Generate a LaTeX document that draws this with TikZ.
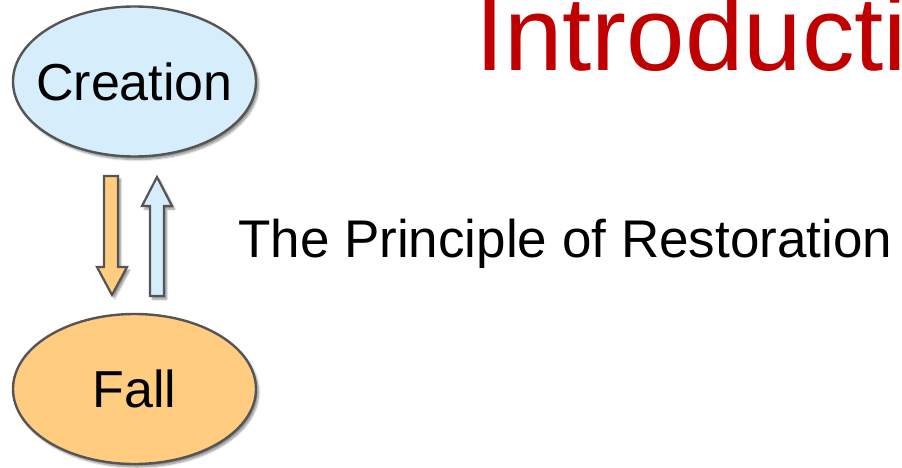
\documentclass[tikz,border=0pt]{standalone}
\usepackage{fontspec}
\setmainfont{Liberation Sans}
\usetikzlibrary{shapes.geometric,shadows.blur}
\definecolor{lblue}{RGB}{214,237,252}
\definecolor{lorange}{RGB}{255,204,128}
\definecolor{edgegray}{RGB}{85,85,85}
\definecolor{titlered}{RGB}{192,0,0}
\tikzset{
  state/.style={ellipse, draw=edgegray, line width=2.4pt, inner sep=0pt,
    minimum width=243pt, minimum height=150pt,
    font=\fontsize{52}{52}\selectfont,
    blur shadow={shadow xshift=2.5pt, shadow yshift=-3pt, shadow blur steps=6, shadow opacity=45}},
  bigarrow/.style={draw=edgegray, line width=2.2pt, line join=miter,
    blur shadow={shadow xshift=2.5pt, shadow yshift=-3pt, shadow blur steps=6, shadow opacity=45}}
}
\begin{document}
\begin{tikzpicture}[x=1pt,y=-1pt]
\useasboundingbox (0,0) rectangle (902,468);
\clip (0,0) rectangle (902,468);
\node[state, fill=lblue] (creation) at (134.5,81.5) {\makebox[0pt]{\raisebox{-5pt}{Creation}}};
\node[state, fill=lorange] (fall) at (134.5,389) {\makebox[0pt]{\raisebox{-3pt}{Fall}}};
\draw[bigarrow, fill=lorange] (104,176) -- (118,176) -- (118,267) -- (127,267) -- (112,295) -- (97,267) -- (104,267) -- cycle;
\draw[bigarrow, fill=lblue] (157,177) -- (172,206) -- (164,206) -- (164,296) -- (150,296) -- (150,206) -- (142,206) -- cycle;
\node[anchor=base west, inner sep=0pt, text=titlered, font=\fontsize{105}{105}\selectfont] (title) at (475,71) {Introducti};
\node[anchor=base west, inner sep=0pt, font=\fontsize{53}{53}\selectfont] (principle) at (238,257) {The Principle of Restoration};
\end{tikzpicture}
\end{document}
